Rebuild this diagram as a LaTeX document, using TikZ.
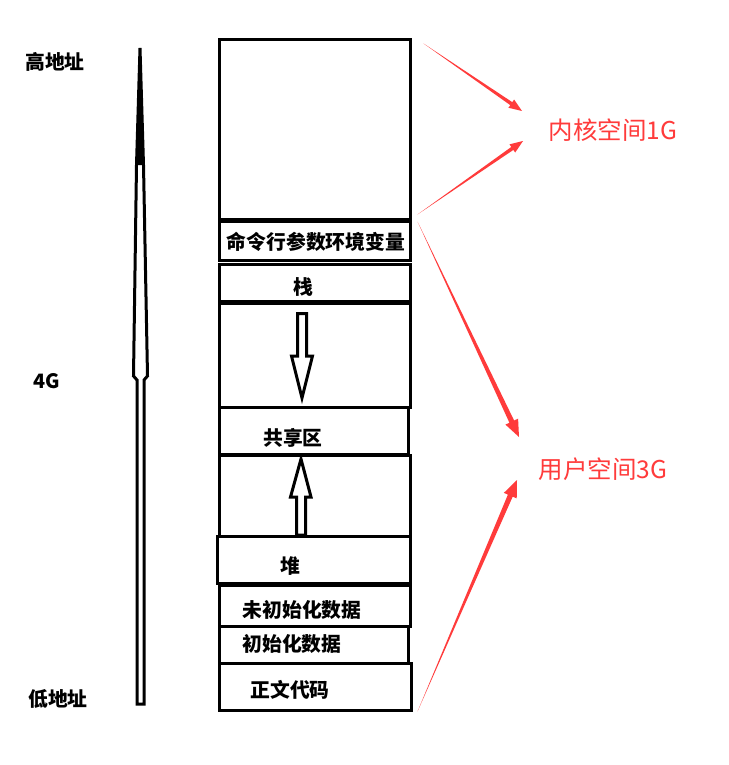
\documentclass[tikz,border=0pt]{standalone}
\usepackage{fontspec}
\setmainfont{Noto Sans CJK SC}
\usetikzlibrary{calc}
\definecolor{spacered}{RGB}{255,59,59}
\tikzset{
      segbox/.style n args={2}{
        draw=black,
        line width=3pt,
        minimum width=#1,
        minimum height=#2,
        inner sep=0pt
      },
      seglabel/.style={
        font=\fontsize{19.8}{22}\selectfont\bfseries,
        inner sep=0pt
      },
      spacelabel/.style={
        text=spacered,
        font=\fontsize{24.5}{28}\selectfont,
        inner sep=0pt
      },
      growarrow/.style={
        draw=black,
        line width=3pt,
        fill=white,
        line join=miter
      }
    }
\newcommand\spacearrow[5]{%
  \coordinate (hb) at ($(#2)!#3!(#1)$);
  \fill[spacered] (#1) -- ($(hb)!#5!90:(#2)$) -- ($(hb)!#4!90:(#2)$) -- (#2)
    -- ($(hb)!#4!-90:(#2)$) -- ($(hb)!#5!-90:(#2)$) -- cycle;}
\begin{document}
\begin{tikzpicture}[x=1pt,y=-1pt]
    \useasboundingbox[fill=white] (0,0) rectangle (728,765);
    \node[segbox={191pt}{179pt}] (kernel) at (314.5,129.5) {};
    \node[segbox={191pt}{39pt}] (cmdline) at (314.5,240.5) {};
    \node[segbox={191pt}{37pt}] (stack) at (314.5,282.5) {};
    \node[segbox={191pt}{104pt}] (gapdown) at (314.5,355) {};
    \node[segbox={189pt}{47pt}] (shared) at (313.5,430.5) {};
    \node[segbox={191pt}{81pt}] (gapup) at (314.5,495.5) {};
    \node[segbox={193pt}{47pt}] (heap) at (313.5,559.5) {};
    \node[segbox={191pt}{41pt}] (bss) at (314.5,605.5) {};
    \node[segbox={189pt}{37pt}] (data) at (313.5,644.5) {};
    \node[segbox={192pt}{47pt}] (code) at (315,686.5) {};
    \node[seglabel] (cmdline-t) at (316,242) {命令行参数环境变量};
    \node[seglabel] (stack-t) at (303,287) {栈};
    \node[seglabel] (shared-t) at (293,438) {共享区};
    \node[seglabel] (heap-t) at (290,566) {堆};
    \node[seglabel] (bss-t) at (302,610) {未初始化数据};
    \node[seglabel] (data-t) at (292,644) {初始化数据};
    \node[seglabel] (code-t) at (290,690) {正文代码};
    \node[seglabel] (high-t) at (55,62) {高地址};
    \node[seglabel] (mid-t) at (47,381) {4G};
    \node[seglabel] (low-t) at (58,699) {低地址};
    \node[spacelabel] (kernel-t) at (613,130) {内核空间1G};
    \node[spacelabel] (user-t) at (603,469) {用户空间3G};
    \draw[growarrow] (297.5,313.5) -- (306.5,313.5) -- (306.5,356) -- (312.5,356) -- (302,398)
      -- (291.5,356) -- (297.5,356) -- cycle;
    \draw[growarrow] (296.5,535) -- (305.5,535) -- (305.5,497) -- (311,497) -- (301,459)
      -- (290.5,497) -- (296.5,497) -- cycle;
    \draw[line width=3pt, line join=miter] (140,48) -- (143.5,165) -- (147.5,376) -- (144,380)
      -- (144,704) -- (137,704) -- (137,380) -- (133.5,376) -- (136.5,165) -- cycle;
    \fill (140,48) -- (143.5,165) -- (136.5,165) -- cycle;
    \coordinate (kernel-a) at (522,111);
    \coordinate (kernel-b) at (523,141);
    \coordinate (user-a) at (519,437);
    \coordinate (user-b) at (517,480);
    \spacearrow{[shift={(12,5)}]kernel.north east}{kernel-a}{13pt}{5pt}{1.8pt}
    \spacearrow{[shift={(6,-6)}]kernel.south east}{kernel-b}{13pt}{5pt}{1.8pt}
    \spacearrow{[shift={(6,2)}]cmdline.north east}{user-a}{17pt}{7pt}{2.6pt}
    \spacearrow{[shift={(5,0)}]code.south east}{user-b}{17pt}{7pt}{2.6pt}
\end{tikzpicture}
\end{document}
